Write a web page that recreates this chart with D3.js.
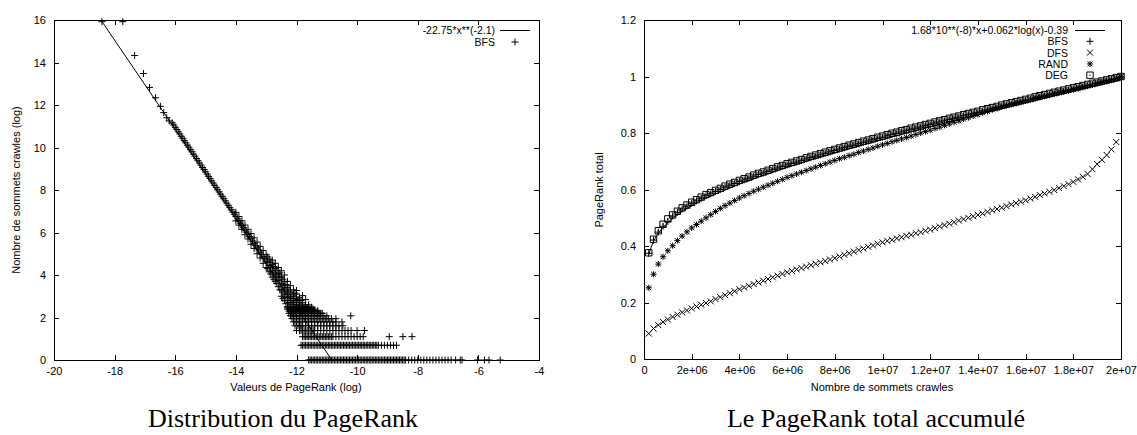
<!DOCTYPE html>
<html>
<head>
<meta charset="utf-8">
<script src="https://cdn.jsdelivr.net/npm/d3@7"></script>
<style>
body { margin: 0; background: #fff; }
svg { display: block; }
text { font-family: "Liberation Sans", Arial, Helvetica, sans-serif; fill: #000; }
.caption { font-family: "Liberation Serif", "Times New Roman", serif; }
</style>
</head>
<body>
<svg id="chart" width="1137" height="435"></svg>
<script>
// ---- left chart: distribution du PageRank (log / log) ----
var leftXTicks = [-20, -18, -16, -14, -12, -10, -8, -6, -4];
var leftYTicks = [0, 2, 4, 6, 8, 10, 12, 14, 16];
var leftFitLabel = "-22.75*x**(-2.1)";
var leftFitX = [-18.452, -10.833];
var leftFitY = [16, 0];

// isolated points at the top of the curve
var bfsTailX = [-18.42, -17.73, -17.34, -17.05, -16.85, -16.65, -16.49, -16.38, -16.28, -16.2];
var bfsTailY = [15.92, 15.92, 14.33, 13.48, 12.83, 12.34, 11.94, 11.64, 11.40, 11.25];

// the thin dense band along the fit
var bfsBandX = [-16.10,-16.05,-16.00,-15.95,-15.90,-15.85,-15.80,-15.75,-15.70,-15.65,-15.60,-15.55,-15.50,-15.45,-15.40,-15.35,-15.30,-15.25,-15.20,-15.15,-15.10,-15.05,-15.00,-14.95,-14.90,-14.85,-14.80,-14.75,-14.70,-14.65,-14.60,-14.55,-14.50,-14.45,-14.40,-14.35,-14.30,-14.25,-14.20,-14.15,-14.10,-14.05,-14.00,-13.95,-13.90,-13.85,-13.80,-13.75,-13.70,-13.65,-13.60,-13.55,-13.50,-13.45,-13.40,-13.35,-13.30,-13.25,-13.20,-13.15,-13.10,-13.05,-13.00];
var bfsBandY = [11.16,11.06,10.95,10.85,10.74,10.64,10.53,10.43,10.32,10.22,10.11,10.01,9.90,9.80,9.69,9.59,9.48,9.38,9.27,9.17,9.06,8.96,8.85,8.75,8.64,8.54,8.43,8.33,8.22,8.12,8.01,7.91,7.80,7.70,7.59,7.49,7.38,7.28,7.17,7.07,6.96,6.86,6.75,6.65,6.54,6.44,6.33,6.23,6.12,6.02,5.91,5.81,5.70,5.60,5.49,5.39,5.28,5.18,5.07,4.97,4.86,4.76,4.65];

// the wider cloud (x, list of y)
var bfsCloud = [
  [-14.0, [6.95, 6.55]], [-13.9, [6.75, 6.35]], [-13.8, [6.55, 6.15]], [-13.7, [6.35, 5.9]],
  [-13.6, [6.15, 5.7]], [-13.5, [5.95, 5.45]], [-13.4, [5.75, 5.25]], [-13.3, [5.55, 5.0]],
  [-13.2, [5.35, 4.8]], [-13.1, [5.15, 4.55]], [-13.0, [4.95, 4.35]],
  [-12.95, [4.3, 4.6, 4.85]], [-12.9, [4.15, 4.45, 4.75]], [-12.85, [4.05, 4.35, 4.6]],
  [-12.8, [3.9, 4.2, 4.5, 4.7]], [-12.75, [3.8, 4.1, 4.4]], [-12.7, [3.7, 4.0, 4.3, 4.55]],
  [-12.65, [3.6, 3.9, 4.2]], [-12.6, [3.45, 3.75, 4.05, 4.35]], [-12.55, [3.3, 3.6, 3.9, 4.1]],
  [-12.5, [3.0, 3.3, 3.6, 3.9, 4.2]], [-12.45, [2.9, 3.2, 3.5, 3.8]], [-12.4, [2.8, 3.1, 3.4, 3.7, 4.0]],
  [-12.35, [2.65, 2.95, 3.25, 3.55]], [-12.3, [2.5, 2.8, 3.1, 3.4, 3.7]], [-12.25, [2.4, 2.7, 3.0, 3.3]],
  [-12.2, [2.3, 2.6, 2.9, 3.2, 3.5]], [-12.15, [2.2, 2.5, 2.8, 3.1]], [-12.1, [2.1, 2.4, 2.7, 3.0, 3.3]],
  [-12.05, [2.3, 2.6, 2.9, 3.15]], [-12.0, [2.2, 2.5, 2.8, 3.1, 3.27]], [-11.95, [2.35, 2.6, 2.85]],
  [-11.9, [2.2, 2.45, 2.7, 2.95]], [-11.85, [2.3, 2.55, 2.8]], [-11.8, [2.2, 2.45, 2.7, 3.03]],
  [-11.75, [2.3, 2.5]], [-11.7, [2.2, 2.4, 2.6, 2.85]], [-11.65, [2.25, 2.45]],
  [-11.6, [2.2, 2.4, 2.6]], [-11.5, [2.2, 2.3, 2.45]], [-11.4, [2.2, 2.35]], [-11.3, [2.2, 2.3]], [-11.2, [2.2]]
];

// discrete rows at log(count) = log 1, log 2, ...
var bfsLevelY = [0, 0.693, 1.099, 1.386, 1.609, 1.792, 1.946, 2.079, 2.197, 2.303, 2.398, 2.485];
var bfsLevelX = [
  [-11.6,-11.55,-11.5,-11.45,-11.4,-11.35,-11.3,-11.25,-11.2,-11.15,-11.1,-11.05,-11.0,-10.95,-10.9,-10.85,-10.8,-10.75,-10.7,-10.65,-10.6,-10.55,-10.5,-10.45,-10.4,-10.35,-10.3,-10.25,-10.2,-10.15,-10.1,-10.05,-10.0,-9.95,-9.9,-9.85,-9.8,-9.75,-9.7,-9.65,-9.6,-9.55,-9.5,-9.45,-9.4,-9.35,-9.3,-9.25,-9.2,-9.15,-9.1,-9.05,-9.0,-8.95,-8.9,-8.85,-8.8,-8.75,-8.7,-8.65,-8.6,-8.55,-8.5,-8.45,-8.4,-8.3,-8.2,-8.1,-8.0,-7.9,-7.8,-7.7,-7.6,-7.5,-7.4,-7.3,-7.2,-7.1,-7.0,-6.9,-6.75,-6.6,-6.54,-6.03,-5.8,-5.65,-5.28],
  [-11.85,-11.8,-11.75,-11.7,-11.65,-11.6,-11.55,-11.5,-11.45,-11.4,-11.35,-11.3,-11.25,-11.2,-11.15,-11.1,-11.05,-11.0,-10.95,-10.9,-10.85,-10.8,-10.75,-10.7,-10.65,-10.6,-10.55,-10.5,-10.45,-10.4,-10.35,-10.3,-10.25,-10.2,-10.15,-10.1,-10.05,-10.0,-9.95,-9.9,-9.85,-9.8,-9.75,-9.7,-9.65,-9.6,-9.55,-9.5,-9.45,-9.4,-9.35,-9.3,-9.2,-9.1,-9.0,-8.9,-8.8,-8.7],
  [-11.8,-11.75,-11.7,-11.65,-11.6,-11.55,-11.5,-11.45,-11.4,-11.35,-11.3,-11.25,-11.2,-11.15,-11.1,-11.05,-11.0,-10.95,-10.9,-10.85,-10.8,-10.7,-10.6,-10.5,-10.4,-10.3,-10.2,-10.1,-10.0,-9.9,-9.8,-8.94,-8.49,-8.19],
  [-12.0,-11.9,-11.85,-11.8,-11.75,-11.7,-11.65,-11.6,-11.55,-11.5,-11.45,-11.4,-11.3,-11.2,-11.1,-11.0,-10.9,-10.8,-10.7,-10.6,-10.5,-10.4,-10.3,-10.2,-10.0,-9.76],
  [-12.05,-11.95,-11.9,-11.85,-11.8,-11.7,-11.6,-11.5,-11.4,-11.3,-11.2,-11.1,-11.0,-10.9,-10.8,-10.7,-10.6,-10.47],
  [-12.1,-12.0,-11.9,-11.8,-11.7,-11.6,-11.5,-11.4,-11.3,-11.2,-11.1,-11.0,-10.9,-10.8,-10.7,-10.5],
  [-12.15,-12.05,-11.95,-11.85,-11.75,-11.65,-11.55,-11.45,-11.35,-11.25,-11.15,-11.05,-10.95,-10.85,-10.7],
  [-12.2,-12.1,-12.0,-11.9,-11.8,-11.7,-11.6,-11.5,-11.4,-11.3,-11.2,-11.1,-11.0,-10.21],
  [-12.25,-12.15,-12.05,-11.95,-11.85,-11.75,-11.65,-11.55,-11.45,-11.35,-11.25,-11.15],
  [-12.25,-12.1,-12.0,-11.9,-11.8,-11.7,-11.6,-11.5,-11.4,-11.3],
  [-12.3,-12.15,-12.05,-11.95,-11.85,-11.75,-11.65,-11.55,-11.45],
  [-12.3,-12.2,-12.1,-12.0,-11.9,-11.8,-11.7,-11.6,-11.5]
];

// ---- right chart: PageRank total accumule ----
var rightXTicks = [0, 2e6, 4e6, 6e6, 8e6, 1e7, 1.2e7, 1.4e7, 1.6e7, 1.8e7, 2e7];
var rightXLabels = ["0", "2e+06", "4e+06", "6e+06", "8e+06", "1e+07", "1.2e+07", "1.4e+07", "1.6e+07", "1.8e+07", "2e+07"];
var rightYTicks = [0, 0.2, 0.4, 0.6, 0.8, 1, 1.2];
var rightFitLabel = "1.68*10**(-8)*x+0.062*log(x)-0.39";
var seriesNames = ["BFS", "DFS", "RAND", "DEG"];

// crawled vertices, in millions
var crawledM = [0.2,0.4,0.6,0.8,1,1.2,1.4,1.6,1.8,2,2.2,2.4,2.6,2.8,3,3.2,3.4,3.6,3.8,4,4.2,4.4,4.6,4.8,5,5.2,5.4,5.6,5.8,6,6.2,6.4,6.6,6.8,7,7.2,7.4,7.6,7.8,8,8.2,8.4,8.6,8.8,9,9.2,9.4,9.6,9.8,10,10.2,10.4,10.6,10.8,11,11.2,11.4,11.6,11.8,12,12.2,12.4,12.6,12.8,13,13.2,13.4,13.6,13.8,14,14.2,14.4,14.6,14.8,15,15.2,15.4,15.6,15.8,16,16.2,16.4,16.6,16.8,17,17.2,17.4,17.6,17.8,18,18.2,18.4,18.6,18.8,19,19.2,19.4,19.6,19.8,20];

var bfsTotal = [0.374,0.421,0.449,0.470,0.487,0.506,0.519,0.531,0.541,0.551,0.560,0.569,0.578,0.585,0.593,0.600,0.608,0.615,0.621,0.628,0.634,0.640,0.647,0.653,0.658,0.664,0.670,0.676,0.681,0.687,0.692,0.697,0.702,0.708,0.713,0.718,0.723,0.728,0.733,0.738,0.743,0.748,0.753,0.757,0.762,0.767,0.771,0.776,0.781,0.785,0.790,0.795,0.799,0.804,0.808,0.813,0.817,0.821,0.826,0.830,0.835,0.839,0.843,0.848,0.852,0.856,0.861,0.865,0.869,0.873,0.878,0.882,0.886,0.890,0.895,0.899,0.903,0.907,0.911,0.915,0.919,0.924,0.928,0.932,0.936,0.940,0.944,0.948,0.952,0.956,0.960,0.964,0.968,0.972,0.977,0.981,0.985,0.989,0.993,0.998];
var dfsTotal = [0.090,0.108,0.120,0.131,0.140,0.149,0.157,0.165,0.172,0.179,0.186,0.192,0.198,0.204,0.212,0.219,0.226,0.233,0.240,0.247,0.253,0.259,0.265,0.271,0.277,0.283,0.289,0.295,0.301,0.307,0.312,0.317,0.322,0.327,0.332,0.337,0.342,0.347,0.352,0.357,0.363,0.369,0.374,0.380,0.386,0.391,0.397,0.402,0.408,0.413,0.418,0.422,0.427,0.431,0.436,0.440,0.445,0.449,0.454,0.458,0.463,0.469,0.474,0.479,0.484,0.490,0.495,0.500,0.505,0.510,0.515,0.521,0.526,0.531,0.536,0.541,0.547,0.552,0.557,0.562,0.568,0.574,0.580,0.586,0.592,0.598,0.605,0.612,0.619,0.627,0.636,0.645,0.655,0.672,0.690,0.705,0.722,0.742,0.768,1.000];
var randTotal = [0.252,0.300,0.336,0.362,0.383,0.401,0.419,0.435,0.450,0.464,0.476,0.488,0.500,0.511,0.522,0.533,0.543,0.552,0.561,0.570,0.578,0.586,0.594,0.601,0.608,0.615,0.622,0.629,0.636,0.643,0.649,0.655,0.661,0.667,0.673,0.679,0.685,0.691,0.697,0.703,0.709,0.714,0.720,0.725,0.731,0.736,0.742,0.747,0.753,0.758,0.763,0.769,0.774,0.779,0.784,0.789,0.795,0.800,0.805,0.810,0.816,0.821,0.827,0.832,0.838,0.843,0.849,0.854,0.860,0.865,0.871,0.876,0.882,0.887,0.893,0.897,0.901,0.905,0.909,0.913,0.917,0.922,0.926,0.930,0.934,0.938,0.942,0.946,0.950,0.954,0.958,0.962,0.966,0.970,0.975,0.979,0.983,0.987,0.992,0.999];
var degTotal = [0.376,0.424,0.454,0.477,0.496,0.510,0.523,0.535,0.545,0.555,0.564,0.573,0.582,0.589,0.597,0.604,0.612,0.619,0.625,0.632,0.638,0.644,0.651,0.657,0.662,0.668,0.674,0.680,0.685,0.691,0.696,0.701,0.706,0.712,0.717,0.722,0.727,0.732,0.737,0.742,0.747,0.752,0.757,0.761,0.766,0.771,0.775,0.780,0.785,0.789,0.794,0.799,0.803,0.808,0.812,0.817,0.821,0.825,0.830,0.834,0.839,0.843,0.847,0.852,0.856,0.860,0.865,0.869,0.873,0.877,0.882,0.886,0.890,0.894,0.899,0.903,0.907,0.911,0.915,0.919,0.923,0.928,0.932,0.936,0.940,0.944,0.948,0.952,0.956,0.960,0.964,0.968,0.972,0.976,0.980,0.984,0.988,0.992,0.996,1.000];

// fitted curve read at a few crawl sizes (millions)
var rightFitM = [0.2,0.4,0.6,0.8,1,1.2,1.6,2,2.6,3.2,4,5,6,8,10,12,14,16,18,20];
var rightFitY = [0.370,0.417,0.445,0.466,0.483,0.498,0.523,0.543,0.570,0.592,0.620,0.650,0.679,0.730,0.777,0.822,0.865,0.907,0.948,0.988];

var svg = d3.select('#chart');

// marker shapes
function plus(cx, cy, s) { return 'M' + (cx - s) + ',' + cy + 'H' + (cx + s) + 'M' + cx + ',' + (cy - s) + 'V' + (cy + s); }
function cross(cx, cy, s) { return 'M' + (cx - s) + ',' + (cy - s) + 'L' + (cx + s) + ',' + (cy + s) + 'M' + (cx - s) + ',' + (cy + s) + 'L' + (cx + s) + ',' + (cy - s); }
function star(cx, cy, s) { return plus(cx, cy, s) + cross(cx, cy, s * 0.8); }
function box(cx, cy, s) { return 'M' + (cx - s) + ',' + (cy - s) + 'h' + (2 * s) + 'v' + (2 * s) + 'h' + (-2 * s) + 'Z' + 'M' + (cx - 0.7) + ',' + cy + 'h1.4'; }

function plain(d) { return String(d); }

function drawFrame(x, y, xTicks, xFmt, yTicks, yFmt) {
  var x0 = x.range()[0], x1 = x.range()[1], y0 = y.range()[1], y1 = y.range()[0];
  var g = svg.append('g');
  var axes = [
    [d3.axisBottom(x).tickValues(xTicks).tickFormat(xFmt).tickPadding(7), 'translate(0,' + y1 + ')'],
    [d3.axisTop(x).tickValues(xTicks).tickFormat(''), 'translate(0,' + y0 + ')'],
    [d3.axisLeft(y).tickValues(yTicks).tickFormat(yFmt).tickPadding(8), 'translate(' + x0 + ',0)'],
    [d3.axisRight(y).tickValues(yTicks).tickFormat(''), 'translate(' + x1 + ',0)']
  ];
  axes.forEach(function(a) {
    var ag = g.append('g').attr('transform', a[1])
      .call(a[0].tickSizeInner(-5).tickSizeOuter(0));
    ag.select('.domain').remove();
    ag.attr('font-family', '"Liberation Sans", Arial, sans-serif').attr('font-size', 11);
    ag.selectAll('line').attr('shape-rendering', 'crispEdges');
  });
  g.append('rect')
    .attr('x', x0).attr('y', y0).attr('width', x1 - x0).attr('height', y1 - y0)
    .attr('fill', 'none').attr('stroke', '#000').attr('shape-rendering', 'crispEdges');
}

// one key row: text ends at textEnd, sample centred on sampleX
function legendRow(textEnd, sampleX, yRow, label, sampleFn) {
  svg.append('text').attr('x', textEnd).attr('y', yRow + 4)
    .attr('text-anchor', 'end').attr('font-size', 10.5).text(label);
  sampleFn(sampleX, yRow);
}
function sampleLine(cx, cy) {
  svg.append('line').attr('x1', cx - 15).attr('x2', cx + 15).attr('y1', cy).attr('y2', cy)
    .attr('stroke', '#000').attr('shape-rendering', 'crispEdges');
}

// ================= left chart =================
var xL = d3.scaleLinear().domain([-20, -4]).range([54, 539]);
var yL = d3.scaleLinear().domain([0, 16]).range([360, 20]);
drawFrame(xL, yL, leftXTicks, plain, leftYTicks, plain);

var bfsPoints = [];
bfsTailX.forEach(function(v, i) { bfsPoints.push([v, bfsTailY[i]]); });
bfsBandX.forEach(function(v, i) { bfsPoints.push([v, bfsBandY[i]]); });
bfsCloud.forEach(function(c) { c[1].forEach(function(v) { bfsPoints.push([c[0], v]); }); });
bfsLevelX.forEach(function(row, i) { row.forEach(function(v) { bfsPoints.push([v, bfsLevelY[i]]); }); });

var leftG = svg.append('g');
leftG.append('path')
  .datum(d3.zip(leftFitX, leftFitY))
  .attr('d', d3.line().x(function(d) { return xL(d[0]); }).y(function(d) { return yL(d[1]); }))
  .attr('fill', 'none').attr('stroke', '#000').attr('stroke-width', 1);
leftG.append('path')
  .attr('d', bfsPoints.map(function(d) { return plus(xL(d[0]), yL(d[1]), 3.5); }).join(''))
  .attr('fill', 'none').attr('stroke', '#000').attr('stroke-width', 1);

legendRow(495, 515, 30, leftFitLabel, sampleLine);
legendRow(495, 515, 42, 'BFS', function(cx, cy) {
  svg.append('path').attr('d', plus(cx, cy, 3.5)).attr('stroke', '#000').attr('fill', 'none');
});

svg.append('text').attr('x', 296).attr('y', 391).attr('text-anchor', 'middle').attr('font-size', 11)
  .text('Valeurs de PageRank (log)');
svg.append('text').attr('transform', 'translate(20,190) rotate(-90)').attr('text-anchor', 'middle').attr('font-size', 11)
  .text('Nombre de sommets crawles (log)');
svg.append('text').attr('class', 'caption').attr('x', 283).attr('y', 427).attr('text-anchor', 'middle')
  .attr('font-size', 26).text('Distribution du PageRank');

// ================= right chart =================
var xR = d3.scaleLinear().domain([0, 2e7]).range([644, 1121]);
var yR = d3.scaleLinear().domain([0, 1.2]).range([359, 20]);
drawFrame(xR, yR, rightXTicks, function(d, i) { return rightXLabels[i]; }, rightYTicks, plain);

var rightG = svg.append('g');
rightG.append('path')
  .datum(d3.zip(rightFitM, rightFitY))
  .attr('d', d3.line().curve(d3.curveMonotoneX)
    .x(function(d) { return xR(d[0] * 1e6); }).y(function(d) { return yR(d[1]); }))
  .attr('fill', 'none').attr('stroke', '#000').attr('stroke-width', 1);

var seriesValues = [bfsTotal, dfsTotal, randTotal, degTotal];
var seriesShapes = [
  function(cx, cy) { return plus(cx, cy, 3.5); },
  function(cx, cy) { return cross(cx, cy, 3); },
  function(cx, cy) { return star(cx, cy, 3); },
  function(cx, cy) { return box(cx, cy, 3.2); }
];

rightG.selectAll('path.series')
  .data(seriesValues)
  .enter().append('path')
  .attr('class', 'series')
  .attr('d', function(vals, s) {
    return vals.map(function(v, i) { return seriesShapes[s](xR(crawledM[i] * 1e6), yR(v)); }).join('');
  })
  .attr('fill', 'none').attr('stroke', '#000').attr('stroke-width', 1);

legendRow(1068, 1090, 30, rightFitLabel, sampleLine);
seriesNames.forEach(function(name, s) {
  legendRow(1068, 1090, 30 + (s + 1) * 11.3, name, function(cx, cy) {
    svg.append('path').attr('d', seriesShapes[s](cx, cy)).attr('stroke', '#000').attr('fill', 'none');
  });
});

svg.append('text').attr('x', 882).attr('y', 391).attr('text-anchor', 'middle').attr('font-size', 11)
  .text('Nombre de sommets crawles');
svg.append('text').attr('transform', 'translate(603,190) rotate(-90)').attr('text-anchor', 'middle').attr('font-size', 11)
  .text('PageRank total');
svg.append('text').attr('class', 'caption').attr('x', 876).attr('y', 427).attr('text-anchor', 'middle')
  .attr('font-size', 26).text('Le PageRank total accumulé');
</script>
</body>
</html>
